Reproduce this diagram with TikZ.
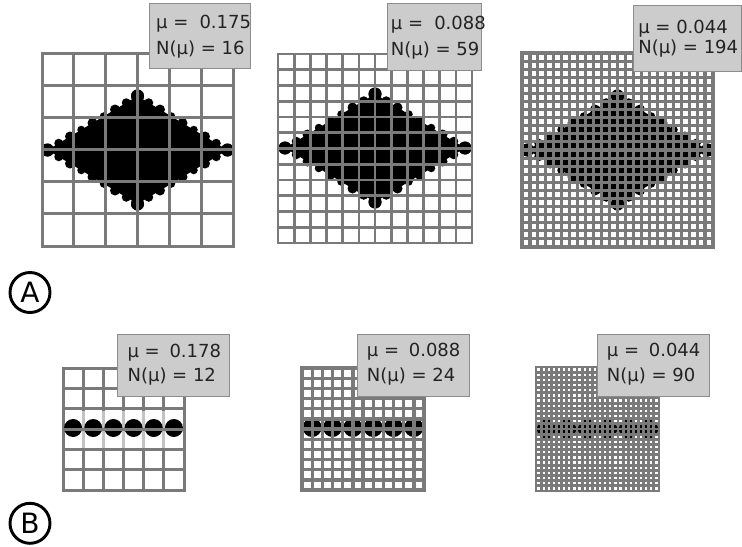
\documentclass[tikz,border=0pt]{standalone}
\usepackage{fontspec}
\setmainfont{DejaVu Sans}
\newfontfamily\lblfont{DejaVu Sans}
\definecolor{gcol}{RGB}{122,122,122}
\definecolor{boxfill}{RGB}{204,204,204}
\definecolor{boxline}{RGB}{140,140,140}
\definecolor{txtcol}{RGB}{35,35,35}
\tikzset{
  gridline/.style={draw=gcol, line cap=rect},
  infobox/.style={draw=boxline, fill=boxfill, line width=0.8pt, inner sep=0pt, anchor=north west},
  infotext/.style={text=txtcol, align=left, inner sep=0pt, anchor=west},
  blob/.style={fill=black},
  letter/.style={circle, draw=black, line width=2.2pt, minimum size=30pt, inner sep=0pt,
                 font=\lblfont\fontsize{21pt}{24pt}\selectfont}
}
\newcommand{\mygrid}[6]{%
  \foreach \k in {0,...,#5}{%
    \draw[gridline, line width=#6] ({#1+\k*(#3-#1)/#5},#2) -- ({#1+\k*(#3-#1)/#5},#4);%
    \draw[gridline, line width=#6] (#1,{#2+\k*(#4-#2)/#5}) -- (#3,{#2+\k*(#4-#2)/#5});%
  }}
\newcommand{\fdiamond}[2]{%
  \begin{scope}[shift={(#1,#2)}]
    \fill[black] (-90,0) -- (0,-54) -- (90,0) -- (0,54) -- cycle;
    \foreach \sx in {-1,1}{\foreach \sy in {-1,1}{%
      \foreach \t/\r in {0/6.5,1/4.5,2/5,3/4,4/5,5/4,6/5,7/4.5,8/6.5}{%
        \fill[black] ({\sx*90*(1-\t/8)},{\sy*54*\t/8}) circle (\r);%
      }}}
  \end{scope}}
\newcommand{\blobrow}[4]{% x0, x1, y, r
  \foreach \k in {0,...,5}{%
    \fill[blob] ({#1+(\k+0.5)*(#2-#1)/6},#3) circle (#4);%
  }}
\begin{document}
\begin{tikzpicture}[x=0.75pt,y=-0.75pt]
\useasboundingbox (0,0) rectangle (742,546);

% ---------- row A ----------
\fdiamond{137.5}{150}
\mygrid{42}{53}{233}{246}{6}{2.25pt}
\fdiamond{375}{148}
\mygrid{278}{54}{472}{243}{12}{2pt}
\fdiamond{617.5}{150}
\mygrid{522}{53}{713}{247}{24}{2.35pt}

\node[infobox, minimum width=75.5pt, minimum height=49.2pt] (boxa1) at (149.3,2.7) {};
\node[infotext, font=\lblfont\fontsize{13.5pt}{20pt}\selectfont] (txta1) at ([xshift=5pt,yshift=-0.6pt]boxa1.west) {μ =\hspace{4pt} 0.175\\N(μ) = 16};
\node[infobox, minimum width=70.7pt, minimum height=50.5pt] (boxa2) at (386.7,2.7) {};
\node[infotext, font=\lblfont\fontsize{13.5pt}{20pt}\selectfont] (txta2) at ([xshift=3pt,yshift=-0.6pt]boxa2.west) {μ =\hspace{4pt} 0.088\\N(μ) = 59};
\node[infobox, minimum width=81.5pt, minimum height=49.5pt] (boxa3) at (632.7,5) {};
\node[infotext, font=\lblfont\fontsize{13.5pt}{15.5pt}\selectfont] (txta3) at ([xshift=4pt]boxa3.west) {μ = 0.044\\N(μ) = 194};

\node[letter] (la) at (30,292.5) {A};

% ---------- row B ----------
\mygrid{63}{368}{184}{490}{6}{2.25pt}
\fill[white, opacity=0.55] (64.5,410.5) rectangle (182.5,447.5);
\blobrow{63}{184}{428}{9}
\draw[gridline, line width=2.25pt] (63,429.3) -- (184,429.3);

\blobrow{302}{424}{427.5}{9.5}
\mygrid{302}{368}{424}{490}{12}{2.5pt}

\blobrow{536}{659}{429}{9.5}
\mygrid{536}{367}{659}{491}{24}{2.1pt}

\node[infobox, minimum width=84pt, minimum height=46.5pt] (boxb1) at (117.3,334) {};
\node[infotext, font=\lblfont\fontsize{13.5pt}{18pt}\selectfont] (txtb1) at ([xshift=7.5pt,yshift=1pt]boxb1.west) {μ =\hspace{3pt} 0.178\\N(μ) = 12};
\node[infobox, minimum width=84pt, minimum height=46.5pt] (boxb2) at (357.3,334.3) {};
\node[infotext, font=\lblfont\fontsize{13.5pt}{18.5pt}\selectfont] (txtb2) at ([xshift=7pt,yshift=1pt]boxb2.west) {μ =\hspace{3pt} 0.088\\N(μ) = 24};
\node[infobox, minimum width=84pt, minimum height=46.5pt] (boxb3) at (597.3,334) {};
\node[infotext, font=\lblfont\fontsize{13.5pt}{18.5pt}\selectfont] (txtb3) at ([xshift=7pt,yshift=1pt]boxb3.west) {μ =\hspace{3pt} 0.044\\N(μ) = 90};

\node[letter] (lb) at (30,523.3) {B};
\end{tikzpicture}
\end{document}
